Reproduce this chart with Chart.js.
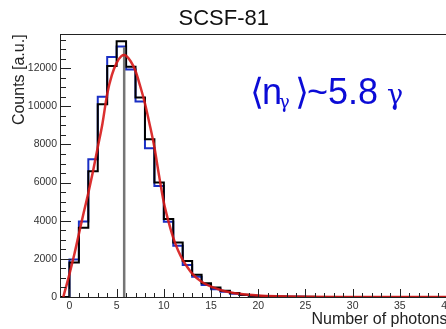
<!DOCTYPE html>
<html>
<head>
<meta charset="utf-8">
<script src="https://cdn.jsdelivr.net/npm/chart.js@4"></script>
<style>
  html, body { margin: 0; padding: 0; background: #fff; overflow: hidden; }
  #wrap { width: 446px; height: 329px; overflow: hidden; }
  canvas { display: block; }
</style>
</head>
<body>
<div id="wrap"><canvas id="chart" width="470" height="329"></canvas></div>
<script>
// histogram bins are [i, i+1), starting at 0
const binStart = 0;
const blackCounts = [1815, 3630, 6597, 10105, 12110, 13410, 12080, 10460, 8273, 6005,
  4084, 2855, 1885, 1165, 725, 500, 330, 209, 122, 70,
  45, 30, 22, 16, 12, 9, 6, 4, 3, 2, 1, 1, 0, 0, 0, 0, 0, 0, 0, 0];
const blueCounts = [1972, 3962, 7226, 10500, 12582, 13135, 11930, 10250, 7800, 5820,
  3944, 2688, 1675, 1065, 628, 403, 275, 170, 100, 60,
  38, 25, 17, 12, 9, 6, 4, 3, 2, 1, 1, 0, 0, 0, 0, 0, 0, 0, 0, 0];

// fitted curve
const fitX = [-0.65, 0, 0.5, 1, 1.5, 2, 2.5, 3, 3.5, 4, 4.5, 5, 5.5, 5.8, 6, 6.5, 7, 7.5, 8, 8.5,
  9, 9.5, 10, 10.5, 11, 11.5, 12, 12.5, 13, 14, 15, 16, 17, 18, 20, 22, 25, 30, 35, 40];
const fitY = [0, 1200, 2200, 3300, 4400, 5450, 6600, 7850, 9100, 10650, 11650, 12280, 12630, 12690, 12650, 12350, 11850, 11050, 10150, 9050,
  7850, 6350, 4950, 3950, 3100, 2450, 1950, 1560, 1230, 800, 540, 370, 250, 165, 75, 35, 12, 2, 0, 0];

// mean marker
const meanX = 5.8;
const meanLineTop = 13100;

const xTicks = [0, 5, 10, 15, 20, 25, 30, 35, 40];
const yTicks = [0, 2000, 4000, 6000, 8000, 10000, 12000];

const FONT = 'Liberation Sans, Arial, Helvetica, sans-serif';

function histPoints(counts) {
  const pts = [{ x: binStart - 1, y: 0 }];
  counts.forEach((c, i) => pts.push({ x: binStart + i, y: c }));
  pts.push({ x: binStart + counts.length, y: 0 });
  return pts;
}

// inward ticks (major + minor), frame and the label in the pad
const rootStyle = {
  id: 'rootStyle',
  afterDatasetsDraw(chart) {
    const { ctx, chartArea: a, scales: { x, y } } = chart;
    ctx.save();
    ctx.strokeStyle = '#222';
    ctx.lineWidth = 1;
    ctx.beginPath();
    for (let v = Math.ceil(x.min); v <= x.max; v += 1) {
      const px = Math.round(x.getPixelForValue(v)) + 0.5;
      const len = v % 5 === 0 ? 8 : 4;
      ctx.moveTo(px, a.bottom);
      ctx.lineTo(px, a.bottom - len);
    }
    for (let v = 0; v <= y.max; v += 500) {
      const py = Math.round(y.getPixelForValue(v)) + 0.5;
      const len = v % 2000 === 0 ? 11 : 6;
      ctx.moveTo(a.left, py);
      ctx.lineTo(a.left + len, py);
    }
    ctx.stroke();
    ctx.strokeRect(Math.round(a.left) + 0.5, Math.round(a.top) + 0.5, a.width, Math.round(a.height));
    ctx.restore();
  },
  afterDraw(chart) {
    const ctx = chart.ctx;
    ctx.save();
    ctx.fillStyle = '#0b0bd6';
    ctx.textBaseline = 'alphabetic';
    ctx.textAlign = 'left';
    ctx.font = '36px ' + FONT;
    ctx.fillText('\u27E8', 250, 104);
    ctx.fillText('n', 262, 104);
    ctx.font = '18px DejaVu Serif, serif';
    ctx.fillText('\u03B3', 279, 108);
    ctx.font = '36px ' + FONT;
    ctx.fillText('\u27E9', 295, 104);
    ctx.fillText('~5.8', 307, 104);
    ctx.font = '27px DejaVu Serif, serif';
    ctx.fillText('\u03B3', 387, 104);
    ctx.restore();
  }
};

new Chart(document.getElementById('chart'), {
  type: 'line',
  data: {
    datasets: [
      {
        label: 'fit',
        data: fitX.map((v, i) => ({ x: v, y: fitY[i] })),
        borderColor: 'rgba(215, 25, 25, 0.9)',
        borderWidth: 2.5,
        pointRadius: 0,
        cubicInterpolationMode: 'monotone',
        fill: false,
        order: 0
      },
      {
        label: 'mean',
        data: [{ x: meanX, y: 0 }, { x: meanX, y: meanLineTop }],
        borderColor: 'rgba(110, 110, 110, 0.95)',
        borderWidth: 2.5,
        pointRadius: 0,
        fill: false,
        order: 1
      },
      {
        label: 'black',
        data: histPoints(blackCounts),
        borderColor: '#000',
        borderWidth: 2,
        pointRadius: 0,
        stepped: 'before',
        fill: false,
        order: 2
      },
      {
        label: 'blue',
        data: histPoints(blueCounts),
        borderColor: '#1a2fc4',
        borderWidth: 2,
        pointRadius: 0,
        stepped: 'before',
        fill: false,
        order: 3
      }
    ]
  },
  options: {
    responsive: false,
    animation: false,
    parsing: false,
    layout: { padding: { left: 0, right: 22.5, top: 0, bottom: 0 } },
    plugins: {
      legend: { display: false },
      tooltip: { enabled: false },
      title: {
        display: true,
        text: 'SCSF-81',
        color: '#111',
        font: { family: FONT, size: 22, weight: 'normal', lineHeight: 1.2 },
        padding: { top: 6, bottom: 2 }
      }
    },
    scales: {
      x: {
        type: 'linear',
        min: -1,
        max: 40.05,
        grid: { display: false, drawTicks: false },
        border: { display: false },
        afterBuildTicks: s => { s.ticks = xTicks.map(v => ({ value: v })); },
        afterFit: s => { s.height = 32; },
        ticks: {
          autoSkip: false, maxRotation: 0, padding: 3, color: '#333',
          font: { family: FONT, size: 10.5 },
          callback: v => String(v)
        },
        title: {
          display: true, text: 'Number of photons', align: 'end', color: '#222',
          font: { family: FONT, size: 16, lineHeight: 1.2 },
          padding: { top: 0, bottom: 0 }
        }
      },
      y: {
        type: 'linear',
        min: 0,
        max: 13770,
        grid: { display: false, drawTicks: false },
        border: { display: false },
        afterBuildTicks: s => { s.ticks = yTicks.map(v => ({ value: v })); },
        afterFit: s => { s.width = 60; },
        ticks: {
          padding: 3, color: '#333',
          font: { family: FONT, size: 10.5 },
          callback: v => String(v)
        },
        title: {
          display: true, text: 'Counts [a.u.]', align: 'end', color: '#222',
          font: { family: FONT, size: 16, lineHeight: 1.2 },
          padding: { top: 10, bottom: 0 }
        }
      }
    }
  },
  plugins: [rootStyle]
});
</script>
</body>
</html>
